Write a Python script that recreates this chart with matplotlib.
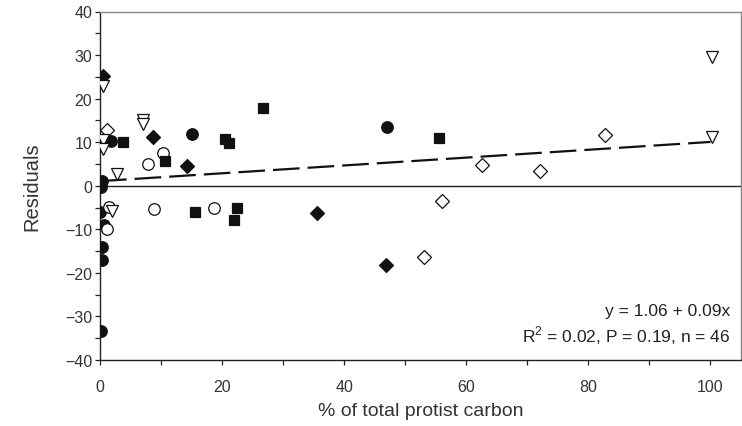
import matplotlib
matplotlib.use("Agg")
import matplotlib.pyplot as plt
import numpy as np

plt.rcParams['font.family'] = ['Liberation Sans', 'DejaVu Sans']
plt.rcParams['mathtext.fontset'] = 'custom'
plt.rcParams['mathtext.rm'] = 'Liberation Sans'

# values
circ_fill_x = [0.3, 0.2, 0.0, 0.65, 0.4, 0.3, 0.1, 1.75, 15.1, 47.0]
circ_fill_y = [1.2, -0.3, -6.0, -9.1, -14.1, -17.1, -33.3, 10.2, 11.9, 13.6]

circ_open_x = [1.4, 1.2, 7.8, 10.4, 8.9, 18.6]
circ_open_y = [-4.9, -9.9, 5.0, 7.6, -5.3, -5.1]

sq_fill_x = [3.7, 10.7, 20.5, 21.1, 26.7, 55.6, 15.5, 22.5, 21.9]
sq_fill_y = [10.0, 5.6, 10.8, 9.8, 17.8, 10.9, -6.0, -5.1, -7.8]

dia_fill_x = [0.5, 8.6, 14.2, 35.5, 46.9]
dia_fill_y = [25.3, 11.1, 4.5, -6.2, -18.1]

dia_open_x = [1.2, 53.0, 56.0, 62.6, 72.1, 82.8]
dia_open_y = [12.8, -16.4, -3.6, 4.7, 3.5, 11.7]

tri_open_x = [0.5, 0.5, 0.5, 7.1, 7.1, 2.8, 1.9, 100.3, 100.3]
tri_open_y = [22.9, 10.4, 8.5, 15.0, 14.2, 2.75, -5.8, 29.5, 11.2]

intercept = 1.06
slope = 0.09

fig = plt.figure(figsize=(7.42, 4.27), dpi=100)
ax = fig.add_axes([100/742, 1 - 361/427, 641/742, 348.5/427])

ax.axhline(0, color='#222222', lw=1.0, zorder=1)

fx = np.array([0.0, 100.0])
line, = ax.plot(fx, intercept + slope*fx, color='#111111', lw=1.6, zorder=2)
line.set_dashes((12, 3.6))

mk = dict(linestyle='none', markeredgecolor='#111111', markeredgewidth=0.9, zorder=3)
ax.plot(circ_fill_x, circ_fill_y, 'o', ms=8.3, color='#111111', **mk)
ax.plot(circ_open_x, circ_open_y, 'o', ms=8.3, markerfacecolor='white', **mk)
ax.plot(sq_fill_x, sq_fill_y, 's', ms=7, color='#111111', **mk)
ax.plot(dia_fill_x, dia_fill_y, 'D', ms=7, color='#111111', **mk)
ax.plot(dia_open_x, dia_open_y, 'D', ms=7, markerfacecolor='white', **mk)
ax.plot(tri_open_x, tri_open_y, 'v', ms=8.5, markerfacecolor='white', **mk)

ax.set_xlim(0, 105)
ax.set_ylim(-40, 40)
ax.set_xticks(np.arange(0, 101, 20))
ax.set_xticks(np.arange(10, 101, 20), minor=True)
ax.set_yticks(np.arange(-40, 41, 10))
ax.set_yticks(np.arange(-35, 40, 10), minor=True)

ax.tick_params(which='both', direction='out', length=3.5, width=0.9, colors='#222222',
               labelsize=11.5, labelcolor='#333333')
ax.tick_params(axis='x', which='both', pad=10)
ax.tick_params(axis='y', which='both', pad=2)
for s in ['left', 'bottom']:
    ax.spines[s].set_color('#222222')
    ax.spines[s].set_linewidth(1.0)
for s in ['top', 'right']:
    ax.spines[s].set_color('#888888')
    ax.spines[s].set_linewidth(1.0)

ax.set_xlabel('% of total protist carbon', fontsize=14, color='#333333', labelpad=6)
ax.set_ylabel('Residuals', fontsize=14.5, color='#333333', labelpad=17)

ax.text(0.983, 0.129, 'y = 1.06 + 0.09x', transform=ax.transAxes, ha='right',
        va='baseline', fontsize=12.5, color='#222222')
ax.text(0.983, 0.054, r'R$^2$ = 0.02, P = 0.19, n = 46', transform=ax.transAxes,
        ha='right', va='baseline', fontsize=12.5, color='#222222')

fig.savefig('out.png', dpi=100)
